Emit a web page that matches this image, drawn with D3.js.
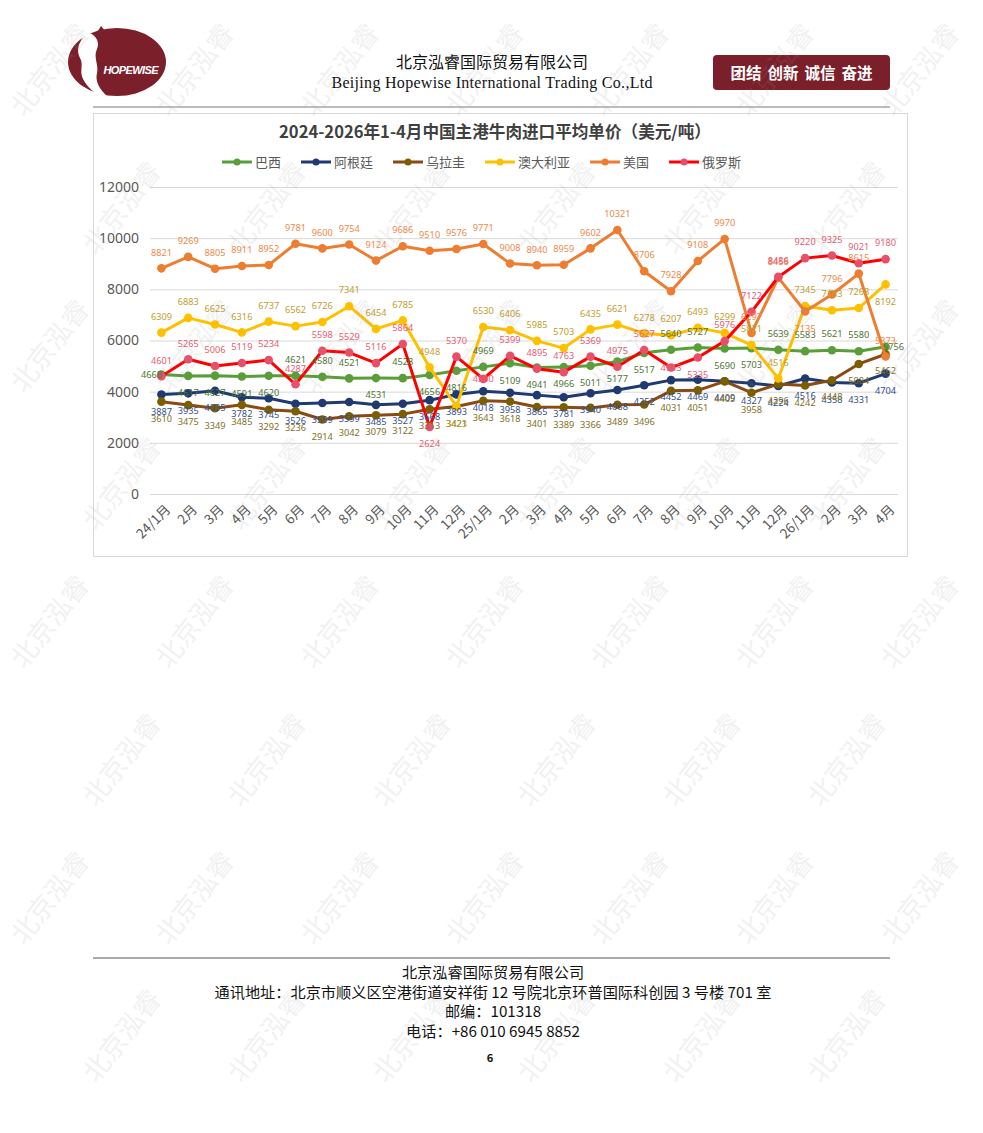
<!DOCTYPE html>
<html>
<head>
<meta charset="utf-8">
<script src="https://cdn.jsdelivr.net/npm/d3@7"></script>
<style>
  html, body { margin: 0; padding: 0; background: #fff; }
  svg { display: block; }
  text { font-family: "Noto Sans CJK SC", "Noto Sans", sans-serif; }
</style>
</head>
<body>
<div id="page"></div>
<script>
// Data
const categories = ["24/1月", "2月", "3月", "4月", "5月", "6月", "7月", "8月", "9月", "10月", "11月", "12月",
    "25/1月", "2月", "3月", "4月", "5月", "6月", "7月", "8月", "9月", "10月", "11月", "12月",
    "26/1月", "2月", "3月", "4月"];
const yTicks = [0, 2000, 4000, 6000, 8000, 10000, 12000];

const brazil    = [4668, 4617, 4627, 4591, 4620, 4621, 4580, 4521, 4531, 4528, 4656, 4816, 4969, 5109, 4941, 4966, 5011, 5177, 5517, 5640, 5727, 5690, 5703, 5639, 5583, 5621, 5580, 5756];
const argentina = [3887, 3935, 4035, 3782, 3745, 3526, 3559, 3599, 3485, 3527, 3668, 3893, 4018, 3958, 3865, 3781, 3940, 4068, 4252, 4452, 4469, 4409, 4327, 4224, 4516, 4358, 4331, 4704];
const uruguay   = [3610, 3475, 3349, 3485, 3292, 3236, 2914, 3042, 3079, 3122, 3313, 3421, 3643, 3618, 3401, 3389, 3366, 3489, 3496, 4031, 4051, 4405, 3958, 4296, 4242, 4448, 5084, 5462];
const australia = [6309, 6883, 6625, 6316, 6737, 6562, 6726, 7341, 6454, 6785, 4948, 3423, 6530, 6406, 5985, 5703, 6435, 6621, 6278, 6207, 6493, 6299, 5821, 4516, 7345, 7183, 7268, 8192];
const usa       = [8821, 9269, 8805, 8911, 8952, 9781, 9600, 9754, 9124, 9686, 9510, 9576, 9771, 9008, 8940, 8959, 9602, 10321, 8706, 7928, 9108, 9970, 6297, 8458, 7135, 7796, 8615, 5373];
const russia    = [4601, 5265, 5006, 5119, 5234, 4287, 5598, 5529, 5116, 5864, 2624, 5370, 4500, 5399, 4895, 4763, 5369, 4975, 5627, 4943, 5335, 5976, 7122, 8486, 9220, 9325, 9021, 9180];

// Series styling (name, values, line / marker / label colours, default label side)
const series = [
    { name: "巴西",     values: brazil,    line: "#5A9E3A", dot: "#5A9E3A", label: "#4F7534", side: "below" },
    { name: "阿根廷",   values: argentina, line: "#1F3A70", dot: "#1F3A70", label: "#334F8F", side: "below" },
    { name: "乌拉圭",   values: uruguay,   line: "#8B4A12", dot: "#7A5E00", label: "#84701E", side: "below" },
    { name: "澳大利亚", values: australia, line: "#FFC000", dot: "#FFC000", label: "#BFA02E", side: "above" },
    { name: "美国",     values: usa,       line: "#ED7D31", dot: "#ED7D31", label: "#EE8A4A", side: "above" },
    { name: "俄罗斯",   values: russia,    line: "#FF0000", dot: "#E8506A", label: "#E85E74", side: "above" }
];

// Data label positions that differ from the series default
const labelOverride = {
    "巴西":     { 0: "left", 5: "above", 6: "above", 7: "above", 9: "above", 12: "above", 19: "above", 20: "above", 23: "above", 24: "above", 25: "above", 26: "above", 27: "right" },
    "俄罗斯":   { 10: "below", 12: "center", 19: "center", 20: "below" },
    "澳大利亚": { 11: "below", 27: "below" },
    "美国":     { 24: "below" }
};

const W = 983, H = 1133;
const svg = d3.select("#page").append("svg").attr("width", W).attr("height", H);

// ---------- Header ----------
const logo = svg.append("g");
logo.append("ellipse").attr("cx", 117).attr("cy", 62).attr("rx", 49).attr("ry", 34).attr("fill", "#7B1F2B");
logo.append("path")
    .attr("d", "M84,36 C77,45 77,52 80,58 C84,65 79,71 83,79 C87,87 94,92 100,97 L108,97 C99,89 95,81 97,73 C99,65 93,57 97,49 C100,42 96,36 90,33 Z")
    .attr("fill", "#fff");
logo.append("path")
    .attr("d", "M96,34 L101,26 L106,32 L101,40 Z")
    .attr("fill", "#7B1F2B");
logo.append("text")
    .attr("x", 131).attr("y", 74)
    .attr("text-anchor", "middle")
    .attr("textLength", 55)
    .style("font-family", "'Liberation Sans', sans-serif")
    .style("font-weight", "bold").style("font-style", "italic")
    .style("font-size", "11px").style("fill", "#fff")
    .text("HOPEWISE");

svg.append("text")
    .attr("x", 492).attr("y", 68)
    .attr("text-anchor", "middle")
    .style("font-size", "16px").style("fill", "#111")
    .text("北京泓睿国际贸易有限公司");
svg.append("text")
    .attr("x", 492).attr("y", 88)
    .attr("text-anchor", "middle")
    .attr("textLength", 321)
    .style("font-family", "'Liberation Serif', serif")
    .style("font-size", "16px").style("fill", "#111")
    .text("Beijing Hopewise International Trading Co.,Ltd");

svg.append("rect")
    .attr("x", 713).attr("y", 55).attr("width", 177).attr("height", 35)
    .attr("rx", 4).attr("fill", "#7B1F2B");
const motto = ["团结", "创新", "诚信", "奋进"];
svg.append("g").selectAll("text")
    .data(motto)
    .join("text")
    .attr("x", (d, i) => 746 + i * 37)
    .attr("y", 78.5)
    .attr("text-anchor", "middle")
    .style("font-size", "15.5px").style("font-weight", "bold").style("fill", "#fff")
    .text(d => d);

svg.append("line")
    .attr("x1", 93).attr("x2", 890).attr("y1", 107).attr("y2", 107)
    .attr("stroke", "#a6a6a6").attr("stroke-width", 1.5);

// ---------- Chart ----------
svg.append("rect")
    .attr("x", 93.5).attr("y", 113.5).attr("width", 814).attr("height", 443)
    .attr("fill", "#fff").attr("stroke", "#d9d9d9");

svg.append("text")
    .attr("x", 495).attr("y", 138)
    .attr("text-anchor", "middle")
    .style("font-size", "16.6px").style("font-weight", "bold").style("fill", "#404040")
    .text("2024-2026年1-4月中国主港牛肉进口平均单价（美元/吨）");

// Legend
const legend = svg.append("g").attr("transform", "translate(222,162)");
let lx = 0;
series.forEach(s => {
    const g = legend.append("g").attr("transform", `translate(${lx},0)`);
    g.append("line").attr("x1", 0).attr("x2", 30).attr("y1", 0).attr("y2", 0)
        .attr("stroke", s.line).attr("stroke-width", 3);
    g.append("circle").attr("cx", 15).attr("cy", 0).attr("r", 3.5).attr("fill", s.dot);
    const t = g.append("text").attr("x", 33).attr("y", 0).attr("dy", "0.36em")
        .style("font-size", "13px").style("fill", "#595959").text(s.name);
    lx += 33 + t.node().getComputedTextLength() + 20;
});

// Scales
const x = d3.scalePoint().domain(d3.range(categories.length)).range([148, 899]).padding(0.5);
const y = d3.scaleLinear().domain([0, 12000]).range([494, 187]);

// Gridlines + y axis labels
const yAxis = svg.append("g")
    .attr("transform", "translate(150,0)")
    .call(d3.axisLeft(y).tickValues(yTicks).tickSize(-748).tickPadding(11).tickFormat(d3.format("d")));
yAxis.select(".domain").remove();
yAxis.selectAll(".tick line").attr("stroke", "#d9d9d9");
yAxis.selectAll(".tick text")
    .style("font-family", "'Noto Sans', sans-serif")
    .style("font-size", "14px").style("fill", "#595959");

// x axis labels
const xAxis = svg.append("g")
    .attr("transform", "translate(0,494)")
    .call(d3.axisBottom(x).tickSize(0).tickFormat(i => categories[i]));
xAxis.select(".domain").remove();
xAxis.selectAll(".tick text")
    .attr("text-anchor", "end")
    .attr("dy", "0.35em")
    .attr("transform", "translate(6,13) rotate(-45)")
    .attr("y", 0).attr("x", 0)
    .style("font-size", "13.5px").style("fill", "#595959");

// Lines and markers
const lineGen = d3.line().x((d, i) => x(i)).y(d => y(d));
series.forEach(s => {
    svg.append("path")
        .datum(s.values)
        .attr("d", lineGen)
        .attr("fill", "none")
        .attr("stroke", s.line)
        .attr("stroke-width", 3)
        .attr("stroke-linejoin", "round");
    svg.append("g").selectAll("circle")
        .data(s.values)
        .join("circle")
        .attr("cx", (d, i) => x(i))
        .attr("cy", d => y(d))
        .attr("r", 4.3)
        .attr("fill", s.dot);
});

// Data labels
series.forEach(s => {
    const over = labelOverride[s.name] || {};
    svg.append("g").selectAll("text")
        .data(s.values)
        .join("text")
        .each(function (d, i) {
            const side = over[i] || s.side;
            let dx = 0, dy = 0;
            if (side === "above") dy = -16;
            else if (side === "below") dy = 17;
            else if (side === "left") dx = -10;
            else if (side === "right") dx = 8;
            d3.select(this)
                .attr("x", x(i) + dx)
                .attr("y", y(d) + dy);
        })
        .attr("dy", "0.35em")
        .attr("text-anchor", "middle")
        .style("font-family", "'Noto Sans', sans-serif")
        .style("font-size", "9.2px")
        .style("fill", s.label)
        .text(d => d);
});

// ---------- Footer ----------
svg.append("line")
    .attr("x1", 93).attr("x2", 890).attr("y1", 958).attr("y2", 958)
    .attr("stroke", "#555").attr("stroke-width", 1);
const footer = [
    { t: "北京泓睿国际贸易有限公司", y: 973 },
    { t: "通讯地址：北京市顺义区空港街道安祥街 12 号院北京环普国际科创园 3 号楼 701 室", y: 993 },
    { t: "邮编：101318", y: 1012 },
    { t: "电话：+86 010 6945 8852", y: 1032 }
];
footer.forEach(f => {
    svg.append("text")
        .attr("x", 493).attr("y", f.y).attr("dy", "0.36em")
        .attr("text-anchor", "middle")
        .style("font-size", "15.2px").style("fill", "#111")
        .style("white-space", "pre")
        .text(f.t);
});
svg.append("text")
    .attr("x", 490).attr("y", 1058).attr("dy", "0.36em")
    .attr("text-anchor", "middle")
    .style("font-size", "11px").style("font-weight", "bold").style("fill", "#111")
    .text("6");

// ---------- Watermark ----------
const wm = svg.append("g").style("pointer-events", "none");
for (let row = 0; row < 8; row++) {
    for (let col = 0; col < 7; col++) {
        const cx = col * 145 + (row % 2 ? 72 : 0) + 50;
        const cy = row * 138 + 70;
        if (cx > W - 40) continue;
        wm.append("text")
            .attr("transform", `translate(${cx},${cy}) rotate(-52)`)
            .attr("text-anchor", "middle")
            .attr("dy", "0.35em")
            .style("font-size", "27px")
            .style("fill", "#9a9a9a")
            .style("opacity", 0.13)
            .text("北京泓睿");
    }
}
</script>
</body>
</html>
